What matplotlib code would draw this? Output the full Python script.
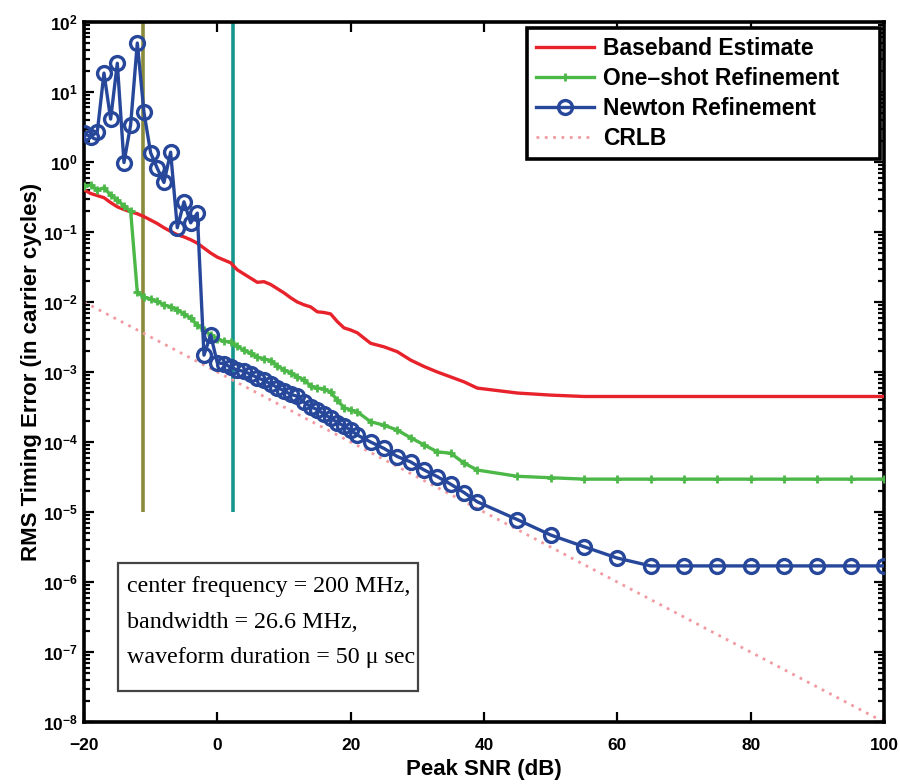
import numpy as np
import matplotlib.pyplot as plt
import matplotlib as mpl
from matplotlib import ticker
from matplotlib.patches import Rectangle

RED = '#E8222B'
GREEN = '#4CB848'
BLUE = '#27479B'
PINK = '#F29AA2'
OLIVE = '#8A8A3C'
TEAL = '#16958F'

mpl.rcParams['font.family'] = 'Liberation Sans'
mpl.rcParams['font.weight'] = 'bold'
mpl.rcParams['mathtext.fontset'] = 'custom'
mpl.rcParams['mathtext.rm'] = 'Liberation Sans:bold'
mpl.rcParams['mathtext.bf'] = 'Liberation Sans:bold'
mpl.rcParams['axes.unicode_minus'] = True

# SNR grid (dB): 1 dB steps, then 2 dB, then 5 dB
snr = [-20, -19, -18, -17, -16, -15, -14, -13, -12, -11, -10, -9, -8, -7, -6,
       -5, -4, -3, -2, -1, 0, 1, 2, 3, 4, 5, 6, 7, 8, 9, 10, 11, 12, 13, 14,
       15, 16, 17, 18, 19, 20, 21, 23, 25, 27, 29, 31, 33, 35, 37, 39,
       45, 50, 55, 60, 65, 70, 75, 80, 85, 90, 95, 100]

baseband = [0.40, 0.355, 0.331, 0.309, 0.263, 0.229, 0.209, 0.195, 0.182, 0.166,
            0.148, 0.132, 0.115, 0.102, 0.0912, 0.0851, 0.0776, 0.0692, 0.0589, 0.0501,
            0.0437, 0.0398, 0.0363, 0.0288, 0.0251, 0.0219, 0.0191, 0.0195, 0.0178, 0.0155,
            0.0135, 0.0115, 0.0100, 0.00912, 0.00851, 0.00724, 0.00708, 0.00676, 0.00525, 0.00427,
            0.00398, 0.00363, 0.00257, 0.00229, 0.00195, 0.00148, 0.00120, 0.00100, 0.000851, 0.000724,
            0.000589, 0.000501, 0.000468, 0.000447, 0.000447, 0.000447, 0.000447, 0.000447, 0.000447,
            0.000447, 0.000447, 0.000447, 0.000447]

oneshot = [0.457, 0.468, 0.398, 0.427, 0.339, 0.288, 0.234, 0.200, 0.0138, 0.0117,
           0.0110, 0.0102, 0.00912, 0.00851, 0.00776, 0.00676, 0.00589, 0.00468, 0.00398, 0.00339,
           0.00295, 0.00275, 0.00269, 0.00234, 0.00204, 0.00186, 0.00162, 0.00155, 0.00145, 0.00123,
           0.00107, 0.000977, 0.000851, 0.000776, 0.000631, 0.000589, 0.000575, 0.000513, 0.000398, 0.000309,
           0.000288, 0.000269, 0.000195, 0.000174, 0.000148, 0.000115, 9.12e-5, 7.24e-5, 6.92e-5, 5.01e-5,
           3.98e-5, 3.24e-5, 3.09e-5, 2.95e-5, 2.95e-5, 2.95e-5, 2.95e-5, 2.95e-5, 2.95e-5,
           2.95e-5, 2.95e-5, 2.95e-5, 2.95e-5]

newton = [2.57, 2.29, 2.69, 18.6, 4.1, 25.7, 0.98, 3.4, 50.0, 5.1,
          1.35, 0.81, 0.51, 1.38, 0.115, 0.27, 0.135, 0.186, 0.00174, 0.00339,
          1.35e-3, 1.32e-3, 1.17e-3, 1.07e-3, 1.02e-3, 9.3e-4, 8.3e-4, 7.6e-4, 6.8e-4, 6.0e-4,
          5.4e-4, 4.8e-4, 4.5e-4, 3.7e-4, 3.2e-4, 2.9e-4, 2.5e-4, 2.2e-4, 1.9e-4, 1.7e-4,
          1.48e-4, 1.26e-4, 1.0e-4, 8.1e-5, 6.2e-5, 5.2e-5, 4.0e-5, 3.2e-5, 2.5e-5, 1.9e-5,
          1.4e-5, 7.8e-6, 4.7e-6, 3.2e-6, 2.2e-6, 1.7e-6, 1.7e-6, 1.7e-6, 1.7e-6, 1.7e-6,
          1.7e-6, 1.7e-6, 1.7e-6]

# CRLB is a straight line on the log axis
crlb_snr = [-20, 100]
crlb = [1e-2, 1e-8]

# threshold markers
thresh_snr = [-11.2, 2.3]
thresh_colors = [OLIVE, TEAL]
thresh_span = [1e-5, 1e2]

fig = plt.figure(figsize=(9, 7.84), dpi=100)
ax = fig.add_axes([0.0933, 0.079, 0.8889, 0.893])

for xv, c in zip(thresh_snr, thresh_colors):
    ax.plot([xv, xv], thresh_span, color=c, lw=2.6, solid_capstyle='butt', zorder=1)

ax.plot(snr, baseband, color=RED, lw=2.4, label='Baseband Estimate', zorder=3)
ax.plot(snr, oneshot, color=GREEN, lw=2.4, marker='+', ms=6, mew=2.0,
        label='One\u2013shot Refinement', zorder=3)
ax.plot(snr, newton, color=BLUE, lw=2.4, marker='o', ms=10, mew=2.4, mfc='none',
        label='Newton Refinement', zorder=4)
ax.plot(crlb_snr, crlb, color=PINK, lw=2.0, ls=(0, (1, 2)), label='CRLB', zorder=2)

ax.set_yscale('log')
ax.set_xlim(-20, 100)
ax.set_ylim(1e-8, 1e2)

ax.xaxis.set_major_locator(ticker.MultipleLocator(20))
ax.yaxis.set_major_locator(ticker.LogLocator(base=10, numticks=20))
ax.yaxis.set_minor_locator(ticker.LogLocator(base=10, subs=np.arange(2, 10), numticks=20))
ax.yaxis.set_minor_formatter(ticker.NullFormatter())
ax.yaxis.set_major_formatter(ticker.FuncFormatter(
    lambda v, p: r'$\mathbf{10^{%d}}$' % int(round(np.log10(v)))))

ax.tick_params(which='both', direction='in', top=True, right=True, labelsize=12.5, width=1.6)
ax.tick_params(which='major', length=7)
ax.tick_params(which='minor', length=4)
ax.tick_params(axis='x', pad=11.5)
ax.tick_params(axis='y', pad=4.5)
for lbl in ax.get_xticklabels() + ax.get_yticklabels():
    lbl.set_fontweight('bold')
for s in ax.spines.values():
    s.set_linewidth(2.6)

ax.set_xlabel('Peak SNR (dB)', fontsize=16, fontweight='bold', va='center')
ax.xaxis.set_label_coords(0.5, -0.068)
ax.set_ylabel('RMS Timing Error (in carrier cycles)', fontsize=16, fontweight='bold', va='center')
ax.yaxis.set_label_coords(-0.066, 0.5)

leg = ax.legend(loc='upper right', bbox_to_anchor=(0.554, 0.7, 0.441, 0.291), mode='expand',
                borderaxespad=0, handlelength=2.5, handletextpad=0.4, labelspacing=0.3,
                borderpad=0.4, fancybox=False, framealpha=1, edgecolor='black',
                prop={'weight': 'bold', 'size': 16.5})
leg.get_frame().set_linewidth(2.6)

# parameter box
ax.add_patch(Rectangle((0.0425, 0.0443), 0.375, 0.1828, transform=ax.transAxes,
                       fc='white', ec='#444444', lw=1.6, zorder=5))
ax.text(0.054, 0.1429, 'center frequency = 200 MHz,\nbandwidth = 26.6 MHz,\n'
        'waveform duration = 50 \u03bc sec', transform=ax.transAxes, va='center', ha='left',
        family='Liberation Serif', fontweight='normal', fontsize=17.3, linespacing=1.88,
        zorder=6)

plt.savefig('out.png', dpi=100)
